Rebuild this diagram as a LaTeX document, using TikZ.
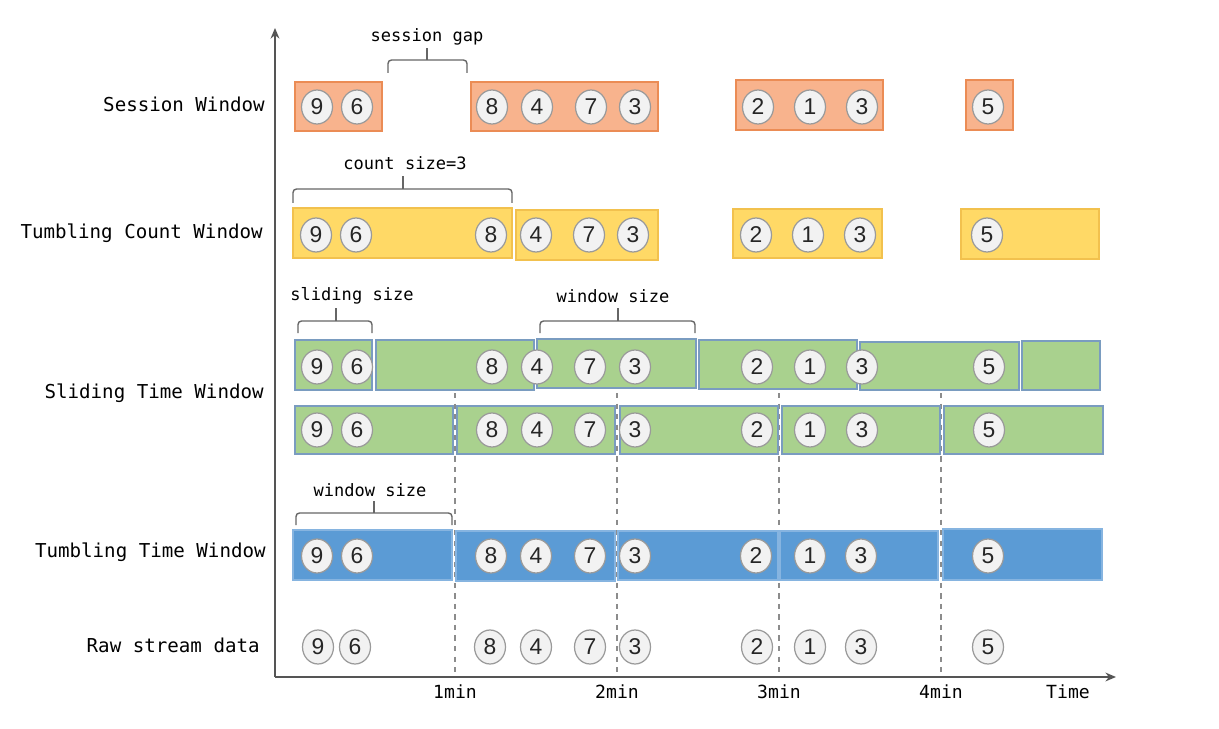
\documentclass[tikz,border=0pt]{standalone}
\usepackage{fontspec}
\setmonofont{DejaVu Sans Mono}
\newfontfamily\digitfont{Liberation Sans}
\usetikzlibrary{arrows.meta,shapes.geometric}
\definecolor{sessfill}{HTML}{F8B38D}
\definecolor{sessline}{HTML}{EB8C55}
\definecolor{cntfill}{HTML}{FFD966}
\definecolor{cntline}{HTML}{F2C14E}
\definecolor{slfill}{HTML}{A9D18E}
\definecolor{slline}{HTML}{7A9CC0}
\definecolor{ttfill}{HTML}{5B9BD5}
\definecolor{ttline}{HTML}{86B4E0}
\definecolor{ballfill}{HTML}{F2F2F2}
\definecolor{ballline}{HTML}{9A9A9A}
\definecolor{axisc}{HTML}{555555}
\begin{document}
\begin{tikzpicture}[x=0.02cm,y=-0.02cm,
  ball/.style={ellipse,draw=ballline,fill=ballfill,line width=0.7pt,minimum width=31*0.02cm,minimum height=34*0.02cm,inner sep=0pt,font=\digitfont\fontsize{13}{14}\selectfont,text=black!85},
  sessbox/.style={draw=sessline,fill=sessfill,line width=0.8pt},
  cntbox/.style={draw=cntline,fill=cntfill,line width=0.8pt},
  slbox/.style={draw=slline,fill=slfill,line width=0.8pt},
  ttbox/.style={draw=ttline,fill=ttfill,line width=0.8pt},
  rowlabel/.style={anchor=east,inner sep=0pt,font=\ttfamily\fontsize{10.9}{13}\selectfont,text=black},
  bracelabel/.style={font=\ttfamily\fontsize{9.7}{12}\selectfont,text=black},
  ticklabel/.style={font=\ttfamily\fontsize{10.3}{12}\selectfont,text=black},
  bracket/.style={draw=black!60,line width=0.8pt,rounded corners=2pt},
  gridline/.style={draw=black!45,dashed,line width=0.6pt},
  axis/.style={draw=axisc,line width=1pt,-{Stealth[length=6pt,width=5pt]}}
]
\useasboundingbox (0,0) rectangle (1219,729);

% axes
\coordinate (O) at (275,677);
\coordinate (ytop) at (275,28);
\coordinate (xend) at (1116,677);
\draw[axis] (O) -- (ytop);
\draw[axis] (O) -- (xend);

% dashed time lines
\foreach \x/\n in {455/1,617/2,779/3,941/4}{
  \coordinate (gt\n) at (\x,393);
  \coordinate (gb\n) at (\x,677);
  \draw[gridline] (gt\n) -- (gb\n);
  \node[ticklabel] (tick\n) at (\x,692) {\n min};
}
\node[ticklabel] (timelabel) at (1068,692) {Time};

% row labels
\node[rowlabel] (lsess) at (265,104) {Session Window};
\node[rowlabel] (lcnt) at (263,233) {Tumbling Count Window};
\node[rowlabel] (lsl) at (264,393) {Sliding Time Window};
\node[rowlabel] (ltt) at (266,552) {Tumbling Time Window};
\node[rowlabel] (lraw) at (260,645) {Raw stream data};

% session window boxes
\draw[sessbox] (295,82) rectangle (382,131);
\draw[sessbox] (471,82) rectangle (658,131);
\draw[sessbox] (736,80) rectangle (883,130);
\draw[sessbox] (966,80) rectangle (1013,130);

% tumbling count boxes
\draw[cntbox] (293,208) rectangle (512,258);
\draw[cntbox] (516,210) rectangle (658,260);
\draw[cntbox] (733,209) rectangle (882,258);
\draw[cntbox] (961,209) rectangle (1099,259);

% sliding boxes row 1
\draw[slbox] (295,340) rectangle (372,390);
\draw[slbox] (376,340) rectangle (534,390);
\draw[slbox] (537,339) rectangle (696,388);
\draw[slbox] (699,340) rectangle (857,389);
\draw[slbox] (860,342) rectangle (1019,390);
\draw[slbox] (1022,341) rectangle (1100,390);
% sliding boxes row 2
\draw[slbox] (295,406) rectangle (453,454);
\draw[slbox] (457,406) rectangle (615,454);
\draw[slbox] (620,406) rectangle (778,454);
\draw[slbox] (782,406) rectangle (940,454);
\draw[slbox] (944,406) rectangle (1103,454);

% tumbling time boxes
\draw[ttbox] (293,530) rectangle (452,580);
\draw[ttbox] (456,531) rectangle (615,581);
\draw[ttbox] (618,531) rectangle (778,580);
\draw[ttbox] (780,531) rectangle (938,580);
\draw[ttbox] (943,529) rectangle (1102,580);

% balls
\foreach \x/\d [count=\i] in {317/9,357/6,492/8,537/4,591/7,635/3,758/2,810/1,862/3,988/5}
  \node[ball] (s\i) at (\x,107) {\d};
\foreach \x/\d [count=\i] in {316/9,356/6,491/8,536/4,589/7,633/3,756/2,808/1,860/3,987/5}
  \node[ball] (c\i) at (\x,235) {\d};
\foreach \x/\d [count=\i] in {317/9,357/6,492/8,537/4,590/7,635/3,757/2,810/1,862/3,989/5}
  \node[ball] (a\i) at (\x,367) {\d};
\foreach \x/\d [count=\i] in {317/9,357/6,492/8,537/4,590/7,635/3,757/2,810/1,862/3,989/5}
  \node[ball] (b\i) at (\x,430) {\d};
\foreach \x/\d [count=\i] in {317/9,357/6,491/8,536/4,590/7,635/3,756/2,810/1,861/3,988/5}
  \node[ball] (t\i) at (\x,556) {\d};
\foreach \x/\d [count=\i] in {318/9,355/6,490/8,536/4,590/7,635/3,757/2,810/1,861/3,988/5}
  \node[ball] (r\i) at (\x,647) {\d};

% braces
\draw[bracket] (388,73) -- (388,60) -- (467,60) -- (467,73);
\draw[bracket] (427,60) -- (427,48);
\node[bracelabel] (gaplabel) at (427,37) {session gap};

\draw[bracket] (293,203) -- (293,189) -- (512,189) -- (512,203);
\draw[bracket] (403,189) -- (403,176);
\node[bracelabel] (cntlabel) at (405,163) {count size=3};

\draw[bracket] (298,333) -- (298,321) -- (372,321) -- (372,333);
\draw[bracket] (336,321) -- (336,308);
\node[bracelabel] (slidelabel) at (352,296) {sliding size};

\draw[bracket] (540,333) -- (540,321) -- (695,321) -- (695,333);
\draw[bracket] (618,321) -- (618,308);
\node[bracelabel] (winlabel) at (613,296) {window size};

\draw[bracket] (296,525) -- (296,513) -- (452,513) -- (452,525);
\draw[bracket] (374,513) -- (374,501);
\node[bracelabel] (ttwinlabel) at (370,490) {window size};
\end{tikzpicture}
\end{document}
